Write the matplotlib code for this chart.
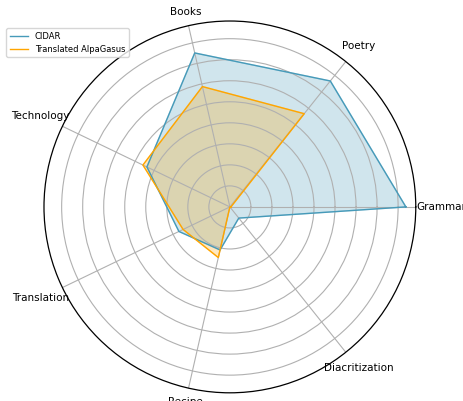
import matplotlib.pyplot as plt
import numpy as np

categories = ['Grammar', 'Poetry', 'Books', 'Technology', 'Translation', 'Recipe', 'Diacritization']
cidar = [83.7, 76.6, 75.1, 43.8, 26.9, 21.0, 6.8]
alpagasus = [0.5, 56.7, 58.7, 45.9, 24.7, 24.7, 0.0]

angles = np.linspace(0, 2 * np.pi, len(categories), endpoint=False).tolist()
angles += angles[:1]
v1 = cidar + cidar[:1]
v2 = alpagasus + alpagasus[:1]

fig = plt.figure(figsize=(4.63, 4.01), dpi=100)
ax = fig.add_axes([0.095, 0.02, 0.803, 0.928], polar=True)

blue = '#469ab9'
l1, = ax.plot(angles, v1, color=blue, linewidth=1, label='CIDAR')
ax.fill(angles, v1, color=blue, alpha=0.25)
l2, = ax.plot(angles, v2, color='orange', linewidth=1, label='Translated AlpaGasus')
ax.fill(angles, v2, color='orange', alpha=0.25)

rmax = 88.4
ax.set_ylim(0, rmax)
ax.set_xticks(angles[:-1])
ax.set_xticklabels([])
ax.set_yticks(np.arange(10, 90, 10))
ax.set_yticklabels([])
ax.grid(color='#b0b0b0', linewidth=0.8)
ax.spines['polar'].set_linewidth(0.9)

# category labels, pushed out further where the text is wide
for ang, name in zip(angles[:-1], categories):
    r = rmax * (197 + 15 * abs(np.cos(ang))) / 186
    ax.text(ang, r, name, ha='center', va='center', fontsize=7.5)

fig.legend(handles=[l1, l2], loc='upper left', bbox_to_anchor=(0.005, 0.94),
           fontsize=6, frameon=True, handlelength=2.2)

plt.savefig('out.png', dpi=100)
